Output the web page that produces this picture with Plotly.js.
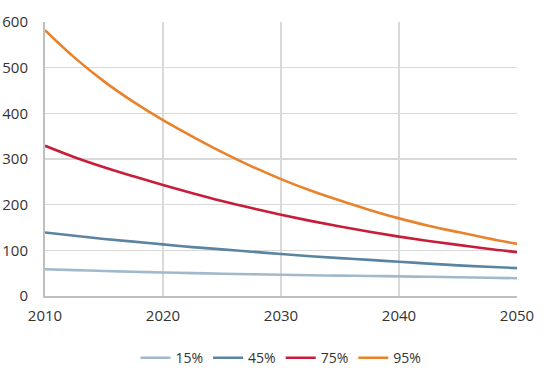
<!DOCTYPE html>
<html>
<head>
<meta charset="utf-8">
<script src="https://cdn.plot.ly/plotly-3.0.1.min.js"></script>
<style>html,body{margin:0;padding:0;background:#fff;}#chart{width:544px;height:375px;}</style>
</head>
<body>
<div id="chart"></div>
<script>
const years = [2010, 2012.5, 2015, 2017.5, 2020, 2022.5, 2025, 2027.5, 2030, 2032.5, 2035, 2037.5, 2040, 2042.5, 2045, 2047.5, 2050];
const s15 = [58.5, 56.6, 54.8, 53.1, 51.5, 50.1, 48.8, 47.6, 46.5, 45.5, 44.6, 43.8, 43, 42, 41, 40, 39];
const s45 = [139, 132, 125, 119, 113, 107, 102, 97, 92, 87, 83, 79, 75, 71, 67, 64, 61];
const s75 = [329, 304, 282, 262, 243, 225, 208, 192.5, 178, 164.5, 152, 140.5, 130, 120.5, 112, 103.5, 96];
const s95 = [582, 522, 470, 425, 385, 349, 315, 284, 256, 231, 209, 188.5, 170, 154, 140, 126.5, 114];
const seriesNames = ['15%', '45%', '75%', '95%'];
const seriesData = [s15, s45, s75, s95];
const colors = ['#a1bacb', '#5a84a1', '#c81d3a', '#e9822a'];

const traces = seriesData.map((d, i) => ({
  x: years, y: d, type: 'scatter', mode: 'lines', name: seriesNames[i],
  line: {color: colors[i], width: 2.6, shape: 'spline', smoothing: 1}
}));

const layout = {
  width: 544, height: 375,
  margin: {l: 45, r: 27, t: 22, b: 79},
  paper_bgcolor: '#fff', plot_bgcolor: '#fff',
  font: {family: '"Open Sans", sans-serif', size: 15, color: '#333'},
  showlegend: true,
  legend: {orientation: 'h', x: 0.5, xanchor: 'center', xref: 'paper',
           y: 0.045, yanchor: 'middle', yref: 'container',
           font: {size: 14, color: '#333'}, itemwidth: 30, tracegroupgap: 0},
  xaxis: {range: [2010, 2050], tickvals: [2010, 2020, 2030, 2040, 2050],
          showgrid: true, gridcolor: '#d9d9d9', gridwidth: 1.5,
          showline: true, linecolor: '#bfbfbf', linewidth: 2,
          zeroline: false, ticks: '', ticklabelstandoff: 5, fixedrange: true},
  yaxis: {range: [0, 600], tickvals: [0, 100, 200, 300, 400, 500, 600],
          showgrid: true, gridcolor: '#d9d9d9', gridwidth: 1.5,
          showline: true, linecolor: '#bfbfbf', linewidth: 2,
          zeroline: false, ticks: '', ticklabelstandoff: 12, fixedrange: true}
};

Plotly.newPlot('chart', traces, layout, {displayModeBar: false, staticPlot: true});
</script>
</body>
</html>
